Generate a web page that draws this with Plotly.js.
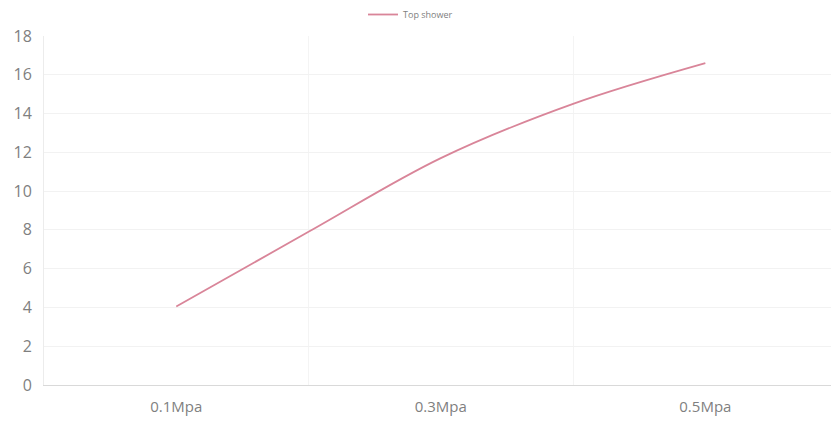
<!DOCTYPE html>
<html>
<head>
<meta charset="utf-8">
<script src="https://cdn.plot.ly/plotly-3.0.1.min.js"></script>
<style>html,body{margin:0;padding:0;background:#fff;}#chart{width:831px;height:421px;}</style>
</head>
<body>
<div id="chart"></div>
<script>
const pressures = [0.1, 0.2, 0.3, 0.4, 0.5];
const flow = [4.05, 7.9, 11.7, 14.5, 16.6];
const tickPositions = [0.1, 0.3, 0.5];
const tickLabels = ["0.1Mpa", "0.3Mpa", "0.5Mpa"];
const seriesName = "Top shower";

const trace = {
  x: pressures, y: flow, type: "scatter", mode: "lines", name: seriesName,
  line: {color: "#d98599", width: 1.8, shape: "spline", smoothing: 1}
};
const layout = {
  width: 831, height: 421,
  margin: {l: 44, r: 0, t: 36, b: 36},
  paper_bgcolor: "#fff", plot_bgcolor: "#fff",
  font: {family: "Open Sans, Noto Sans, sans-serif", color: "#7f7f7f"},
  showlegend: true,
  legend: {orientation: "h", xref: "container", yref: "container", x: 0.494, xanchor: "center", y: 1, yanchor: "top",
           font: {size: 9, color: "#808080"}, itemwidth: 30, tracegroupgap: 0},
  xaxis: {range: [0, 0.595], tickvals: tickPositions, ticktext: tickLabels, showgrid: false,
          zeroline: false, showline: true, linecolor: "#d9d9d9", linewidth: 1, ticks: "",
          tickfont: {size: 15, color: "#7f7f7f"}, ticklabelstandoff: 8, fixedrange: true,
          minor: {tickvals: [0.2, 0.4], showgrid: true, gridcolor: "#f4f4f4", gridwidth: 1, ticks: ""}},
  yaxis: {range: [0, 18], dtick: 2, showgrid: true, gridcolor: "#f2f2f2", gridwidth: 1,
          zeroline: false, showline: true, linecolor: "#ececec", ticks: "",
          tickfont: {size: 16, color: "#7f7f7f"}, ticklabelstandoff: 8, fixedrange: true}
};
Plotly.newPlot("chart", [trace], layout, {displayModeBar: false, staticPlot: true});
</script>
</body>
</html>
